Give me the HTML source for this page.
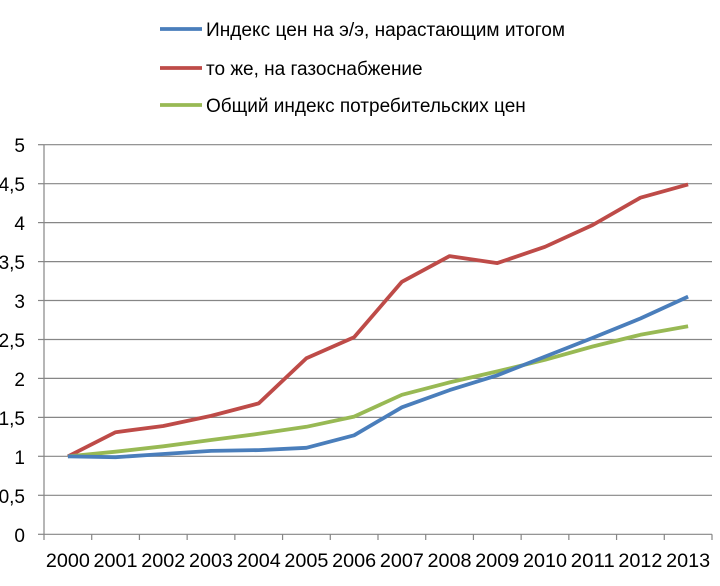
<!DOCTYPE html><html><head><meta charset="utf-8"><style>body{margin:0;background:#fff}svg{display:block}text{font-family:"Liberation Sans","DejaVu Sans",sans-serif;font-size:19px;fill:#000}</style></head><body>
<svg width="720" height="586" viewBox="0 0 720 586">
<g stroke="#868686" stroke-width="1.2">
<line x1="44" x2="712" y1="144.7" y2="144.7"/><line x1="44" x2="712" y1="183.7" y2="183.7"/><line x1="44" x2="712" y1="222.6" y2="222.6"/><line x1="44" x2="712" y1="261.6" y2="261.6"/><line x1="44" x2="712" y1="300.5" y2="300.5"/><line x1="44" x2="712" y1="339.5" y2="339.5"/><line x1="44" x2="712" y1="378.4" y2="378.4"/><line x1="44" x2="712" y1="417.4" y2="417.4"/><line x1="44" x2="712" y1="456.3" y2="456.3"/><line x1="44" x2="712" y1="495.3" y2="495.3"/><line x1="44" x2="712" y1="534.3" y2="534.3"/>
<line x1="44" x2="44" y1="144.7" y2="534.3"/>
<line x1="38" x2="44" y1="144.7" y2="144.7"/><line x1="38" x2="44" y1="183.7" y2="183.7"/><line x1="38" x2="44" y1="222.6" y2="222.6"/><line x1="38" x2="44" y1="261.6" y2="261.6"/><line x1="38" x2="44" y1="300.5" y2="300.5"/><line x1="38" x2="44" y1="339.5" y2="339.5"/><line x1="38" x2="44" y1="378.4" y2="378.4"/><line x1="38" x2="44" y1="417.4" y2="417.4"/><line x1="38" x2="44" y1="456.3" y2="456.3"/><line x1="38" x2="44" y1="495.3" y2="495.3"/><line x1="38" x2="44" y1="534.3" y2="534.3"/>
</g>
<g stroke="#868686" stroke-width="1.2" id="xt"></g>
<g text-anchor="end">
<text x="25" y="152">5</text><text x="25" y="191">4,5</text><text x="25" y="230">4</text><text x="25" y="269">3,5</text><text x="25" y="308">3</text><text x="25" y="347">2,5</text><text x="25" y="386">2</text><text x="25" y="425">1,5</text><text x="25" y="464">1</text><text x="25" y="503">0,5</text><text x="25" y="542">0</text>
</g>
<g id="xl" text-anchor="middle"></g>
<polyline id="r" fill="none" stroke="#be4b48" stroke-width="3.8" stroke-linejoin="round"/>
<polyline id="g" fill="none" stroke="#98b954" stroke-width="3.8" stroke-linejoin="round"/>
<polyline id="b" fill="none" stroke="#4a7ebb" stroke-width="3.8" stroke-linejoin="round"/>
<line x1="160" x2="202" y1="29" y2="29" stroke="#4a7ebb" stroke-width="3.8"/>
<line x1="160" x2="202" y1="68" y2="68" stroke="#be4b48" stroke-width="3.8"/>
<line x1="160" x2="202" y1="105" y2="105" stroke="#98b954" stroke-width="3.8"/>
<text x="206" y="36" textLength="359" lengthAdjust="spacingAndGlyphs">Индекс цен на э/э, нарастающим итогом</text>
<text x="206" y="75">то же, на газоснабжение</text>
<text x="206" y="112">Общий индекс потребительских цен</text>
</svg>
<script>
var L=44,W=47.714,Y0=534.3,S=77.92;
var xt=document.getElementById('xt'),xl=document.getElementById('xl'),ns='http://www.w3.org/2000/svg';
for(var i=0;i<=14;i++){var l=document.createElementNS(ns,'line');var x=L+W*i;l.setAttribute('x1',x);l.setAttribute('x2',x);l.setAttribute('y1',534.3);l.setAttribute('y2',540);xt.appendChild(l);}
for(var i=0;i<14;i++){var t=document.createElementNS(ns,'text');t.setAttribute('x',L+W*(i+.5));t.setAttribute('y',567);t.setAttribute('textLength',44);t.setAttribute('lengthAdjust','spacingAndGlyphs');t.textContent=2000+i;xl.appendChild(t);}
function p(id,d){document.getElementById(id).setAttribute('points',d.map(function(v,i){return (L+W*(i+.5)).toFixed(1)+','+(Y0-S*v).toFixed(1)}).join(' '));}
p('r',[1,1.31,1.39,1.52,1.68,2.26,2.53,3.24,3.57,3.48,3.69,3.97,4.32,4.49]);
p('g',[1,1.06,1.13,1.21,1.29,1.38,1.51,1.79,1.95,2.09,2.24,2.41,2.56,2.67]);
p('b',[1,0.99,1.03,1.07,1.08,1.11,1.27,1.63,1.85,2.04,2.28,2.52,2.77,3.05]);
</script>
</body></html>
